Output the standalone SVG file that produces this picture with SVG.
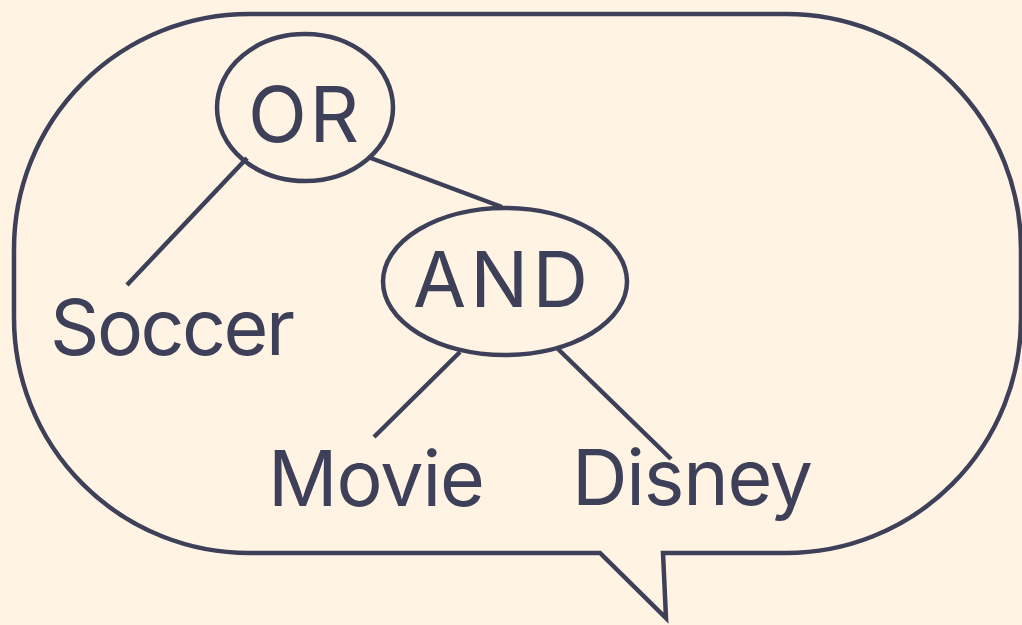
<svg xmlns="http://www.w3.org/2000/svg" width="1022" height="625" viewBox="0 0 1022 625">
<style>
.ln{fill:none;stroke:#3E4059;stroke-width:4.5}
.nd{fill:none;stroke:#3E4059;stroke-width:4.5}
.tx{font-family:Inter,Lato,"Noto Sans",sans-serif;font-weight:400;font-size:77px;fill:#3E4059;text-anchor:middle}
</style>
<rect width="1022" height="625" fill="#FFF4E4"/>
<g id="bubble">
<path class="ln" stroke-linejoin="miter" d="M249,14 H786 A235,235 0 0 1 1021,249 V318 A235,235 0 0 1 786,553 H663 L666,618 L600,553 H249 A235,235 0 0 1 14,318 V249 A235,235 0 0 1 249,14 Z"/>
</g>
<g id="connectors">
<line class="ln" x1="247" y1="158" x2="127" y2="285"/>
<line class="ln" x1="368" y1="157" x2="502" y2="207"/>
<line class="ln" x1="460" y1="352" x2="374" y2="437"/>
<line class="ln" x1="558" y1="349" x2="671" y2="459"/>
</g>
<g id="or">
<ellipse class="nd" cx="305" cy="107.5" rx="88" ry="73.5"/>
<text class="tx" x="303.5" y="142" textLength="111">OR</text>
</g>
<g id="and">
<ellipse class="nd" cx="505" cy="281.5" rx="122" ry="73.5"/>
<text class="tx" x="500.5" y="307" textLength="175">AND</text>
</g>
<g id="soccer">
<text class="tx" x="172.5" y="355" textLength="245">Soccer</text>
</g>
<g id="movie">
<text class="tx" x="376.5" y="506" textLength="217">Movie</text>
</g>
<g id="disney">
<text class="tx" x="692.5" y="505" textLength="241">Disney</text>
</g>
</svg>
